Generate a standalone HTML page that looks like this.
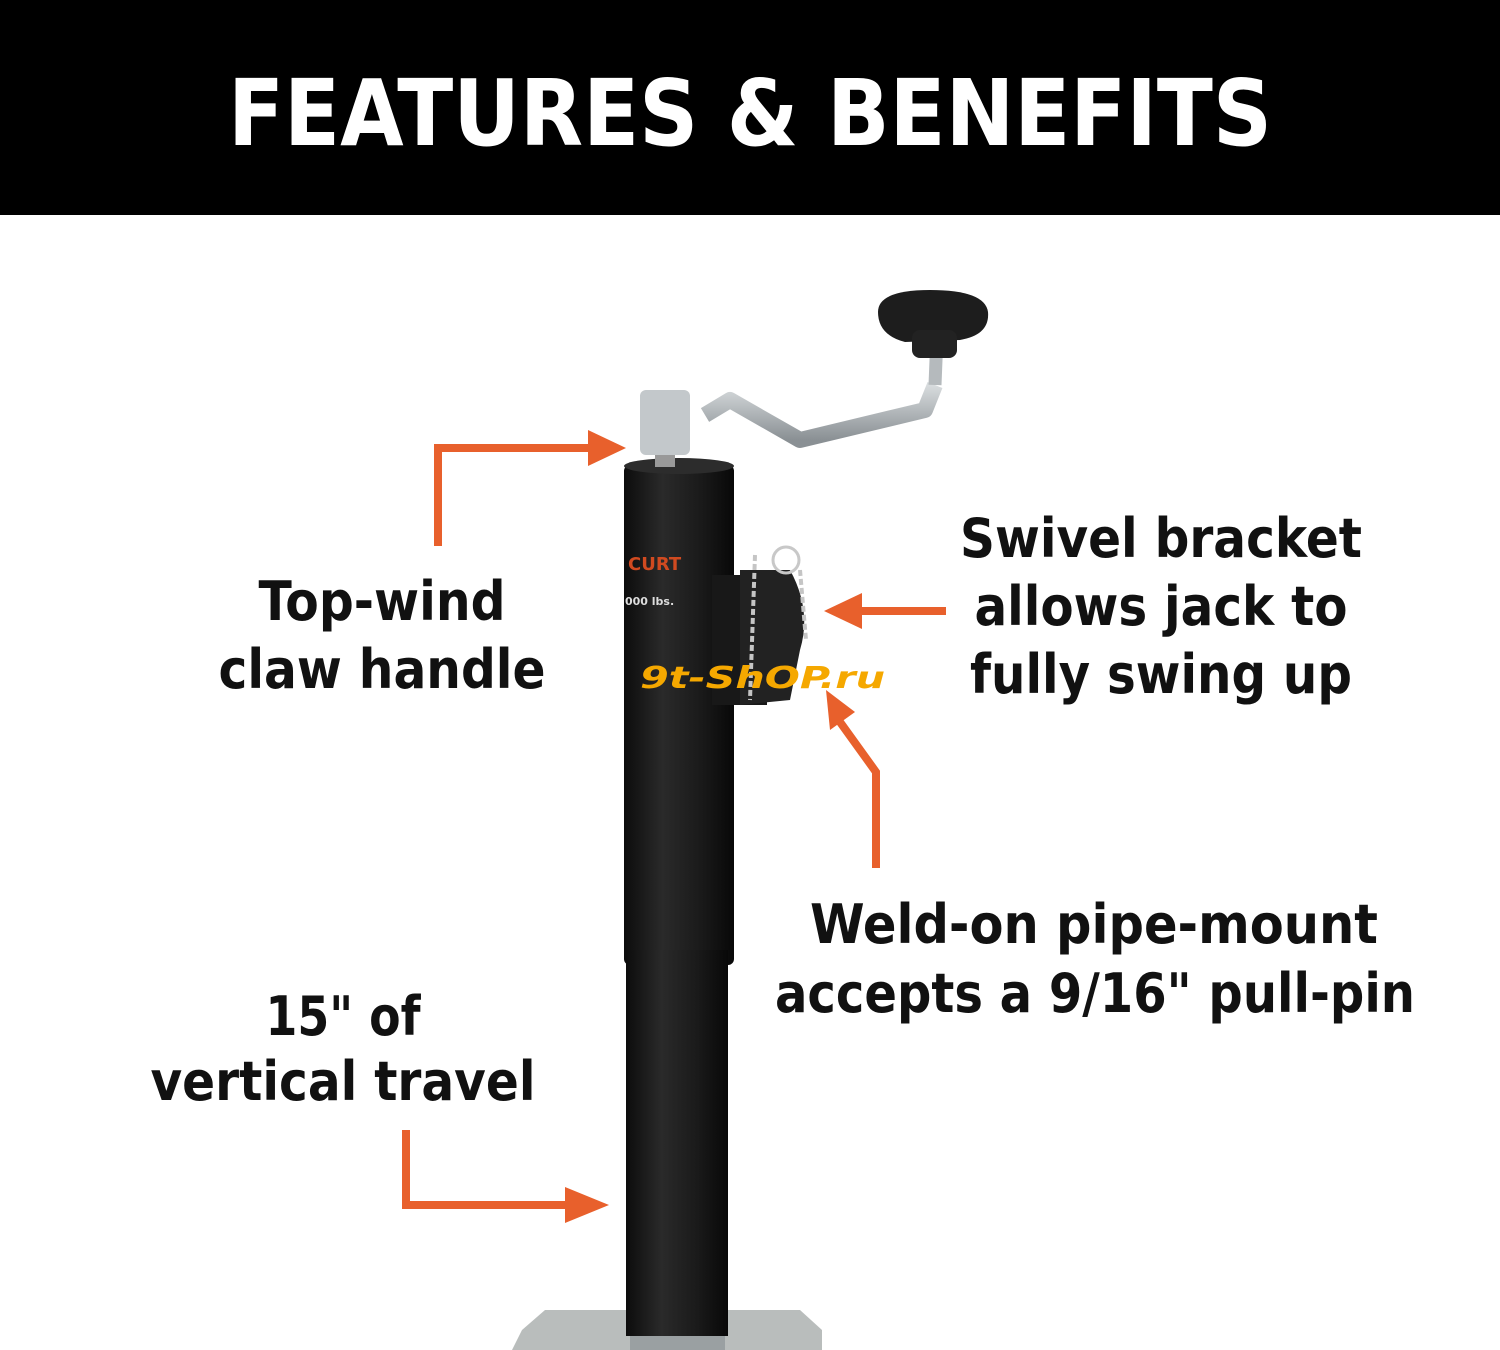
<!DOCTYPE html>
<html><head><meta charset="utf-8"><style>
html,body{margin:0;padding:0;background:#fff;}
svg{display:block;}
text{font-family:"DejaVu Sans","Liberation Sans",sans-serif;font-weight:bold;fill:#111;}
</style></head><body>
<svg width="1500" height="1350" viewBox="0 0 1500 1350" xmlns="http://www.w3.org/2000/svg">
<defs>
<linearGradient id="tube" x1="0" x2="1" y1="0" y2="0">
<stop offset="0" stop-color="#0c0c0c"/><stop offset="0.35" stop-color="#2a2a2a"/><stop offset="0.7" stop-color="#1a1a1a"/><stop offset="1" stop-color="#080808"/>
</linearGradient>
<linearGradient id="metal" x1="0" x2="0" y1="0" y2="1">
<stop offset="0" stop-color="#d8dcde"/><stop offset="1" stop-color="#8a9094"/>
</linearGradient>
</defs>
<rect x="0" y="0" width="1500" height="215" fill="#000"/>
<text x="750" y="145" text-anchor="middle" font-size="92" style="fill:#fff" textLength="1044" lengthAdjust="spacingAndGlyphs">FEATURES &amp; BENEFITS</text>

<!-- base plate -->
<path d="M522 1330 L545 1310 L800 1310 L822 1330 L822 1350 L512 1350 Z" fill="#b9bdbc"/>
<rect x="630" y="1334" width="95" height="16" fill="#9aa0a2"/>
<!-- tube -->
<rect x="624" y="465" width="110" height="500" rx="6" fill="url(#tube)"/>
<rect x="626" y="950" width="102" height="386" fill="url(#tube)"/>
<ellipse cx="679" cy="466" rx="55" ry="8" fill="#2c2c2c"/>
<!-- label -->
<text x="628" y="570" font-size="18" style="fill:#d04a20">CURT</text>
<text x="625" y="605" font-size="11" style="fill:#ddd">000 lbs.</text>
<!-- handle -->
<path d="M705 415 L730 400 L800 440 L925 410 L935 385" fill="none" stroke="url(#metal)" stroke-width="16" stroke-linejoin="round"/>
<path d="M935 385 L937 335" stroke="#b5babd" stroke-width="13"/>
<rect x="640" y="390" width="50" height="65" rx="6" fill="#c3c8cb"/>
<rect x="655" y="455" width="20" height="12" fill="#999"/>
<path d="M878 312 Q878 290 930 290 Q985 290 988 312 Q990 335 960 340 L905 342 Q878 335 878 312 Z" fill="#1d1d1d"/>
<rect x="912" y="330" width="45" height="28" rx="8" fill="#222"/>
<!-- bracket -->
<rect x="712" y="575" width="55" height="130" fill="#181818"/>
<path d="M740 570 L790 570 Q812 610 800 650 L790 700 L740 705 Z" fill="#222"/>
<circle cx="786" cy="560" r="13" fill="none" stroke="#c8c8c8" stroke-width="3"/>
<path d="M755 555 L750 700 M800 570 L806 640" stroke="#c5c5c5" stroke-width="4" stroke-dasharray="6 3"/>
<!-- watermark -->
<text x="640" y="688" font-size="30" font-style="italic" style="fill:#f5a800" textLength="245" lengthAdjust="spacingAndGlyphs">9t-ShOP.ru</text>

<!-- arrows -->
<g fill="none" stroke="#e8602c" stroke-width="8">
<path d="M438 546 L438 448 L592 448"/>
<path d="M946 611 L858 611"/>
<path d="M876 868 L876 772 L840 722"/>
<path d="M406 1130 L406 1205 L568 1205"/>
</g>
<g fill="#e8602c">
<path d="M588 430 L626 448 L588 466 Z"/>
<path d="M862 593 L824 611 L862 629 Z"/>
<path d="M826 690 L855 712 L830 730 Z"/>
<path d="M565 1187 L609 1205 L565 1223 Z"/>
</g>

<!-- labels -->
<text x="382" y="620" font-size="54" text-anchor="middle" textLength="247" lengthAdjust="spacingAndGlyphs">Top-wind</text>
<text x="382" y="688" font-size="54" text-anchor="middle" textLength="327" lengthAdjust="spacingAndGlyphs">claw handle</text>
<text x="1161" y="557" font-size="54" text-anchor="middle" textLength="402" lengthAdjust="spacingAndGlyphs">Swivel bracket</text>
<text x="1161" y="625" font-size="54" text-anchor="middle" textLength="373" lengthAdjust="spacingAndGlyphs">allows jack to</text>
<text x="1161" y="693" font-size="54" text-anchor="middle" textLength="382" lengthAdjust="spacingAndGlyphs">fully swing up</text>
<text x="1094" y="943" font-size="54" text-anchor="middle" textLength="568" lengthAdjust="spacingAndGlyphs">Weld-on pipe-mount</text>
<text x="1095" y="1012" font-size="54" text-anchor="middle" textLength="640" lengthAdjust="spacingAndGlyphs">accepts a 9/16" pull-pin</text>
<text x="343" y="1035" font-size="54" text-anchor="middle" textLength="155" lengthAdjust="spacingAndGlyphs">15" of</text>
<text x="343" y="1100" font-size="54" text-anchor="middle" textLength="385" lengthAdjust="spacingAndGlyphs">vertical travel</text>
</svg>
</body></html>
